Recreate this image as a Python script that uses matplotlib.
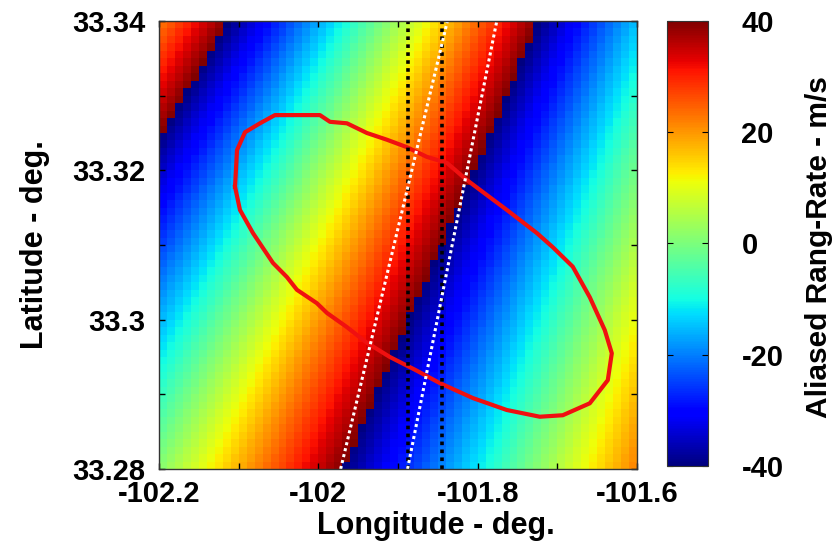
import numpy as np
import matplotlib
matplotlib.use("Agg")
import matplotlib.pyplot as plt
from matplotlib.ticker import MultipleLocator, FormatStrFormatter

plt.rcParams['font.family'] = ['Liberation Sans', 'DejaVu Sans']
plt.rcParams['font.weight'] = 'bold'
plt.rcParams['axes.labelweight'] = 'bold'
plt.rcParams['axes.unicode_minus'] = False

# grid of the range-rate map (cell edges)
lon_edges = np.linspace(-102.2, -101.6, 61)
lat_edges = np.linspace(33.28, 33.34, 61)

# aliasing geometry: longitude of the +40/-40 wrap line
# and width (deg lon) of one 80 m/s stripe at the bottom and top latitude
wrap_lat = [33.28, 33.34]
wrap_lon = [-101.969, -101.7233]
stripe_width = [0.475, 0.390]
v_amb = 80.0

# red footprint contour
ell_lon = [-102.1046, -102.1021, -102.0921, -102.0733, -102.0545, -101.9980, -101.9854,
           -101.9641, -101.9390, -101.9139, -101.8888, -101.8637, -101.8386, -101.8135,
           -101.7885, -101.7634, -101.7257, -101.7056, -101.6806, -101.6592, -101.6404,
           -101.6316, -101.6366, -101.6592, -101.6931, -101.7220, -101.7634, -101.8060,
           -101.8474, -101.8788, -101.9102, -101.9390, -101.9641, -101.9892, -102.0018,
           -102.0269, -102.0394, -102.0570, -102.0821, -102.0984, -102.1046]
ell_lat = [33.3178, 33.3227, 33.3251, 33.3263, 33.3274, 33.3274, 33.3265,
           33.3263, 33.3250, 33.3241, 33.3231, 33.3218, 33.3210, 33.3187,
           33.3167, 33.3147, 33.3116, 33.3097, 33.3071, 33.3030, 33.2986,
           33.2955, 33.2919, 33.2888, 33.2872, 33.2870, 33.2879, 33.2895,
           33.2915, 33.2933, 33.2950, 33.2969, 33.2990, 33.3009, 33.3022,
           33.3040, 33.3057, 33.3076, 33.3116, 33.3147, 33.3178]

# black dotted meridians
dot_lon = [-101.887, -101.845]

# white dashed lines: (lon at 33.28, lon at 33.34)
dash_lon_bottom = [-101.972, -101.888]
dash_lon_top = [-101.838, -101.776]

lon_c = 0.5 * (lon_edges[:-1] + lon_edges[1:])
lat_c = 0.5 * (lat_edges[:-1] + lat_edges[1:])
LON, LAT = np.meshgrid(lon_c, lat_c)
wl = np.interp(LAT, wrap_lat, wrap_lon)
sw = np.interp(LAT, wrap_lat, stripe_width)
u = 40 + v_amb * (LON - wl) / sw
rr = np.mod(u + 40, v_amb) - 40

fig = plt.figure(figsize=(8.37, 5.43), dpi=100)
ax = fig.add_axes([0.190, 0.1363, 0.571, 0.825])
cax = fig.add_axes([0.797, 0.142, 0.049, 0.82])

pc = ax.pcolormesh(lon_edges, lat_edges, rr, cmap='jet', vmin=-40, vmax=40, shading='flat')
ax.plot(ell_lon, ell_lat, color='#f01010', lw=3.0)
for lo in dot_lon:
    ax.plot([lo, lo], [33.28, 33.34], color='black', lw=2.6, dashes=(1.0, 1.2))
for lb, lt in zip(dash_lon_bottom, dash_lon_top):
    ax.plot([lb, lt], [33.28, 33.34], color='white', lw=2.2, dashes=(1.0, 1.0))

ax.set_xlim(-102.2, -101.6)
ax.set_ylim(33.28, 33.34)
ax.xaxis.set_major_locator(MultipleLocator(0.2))
ax.xaxis.set_minor_locator(MultipleLocator(0.1))
ax.yaxis.set_major_locator(MultipleLocator(0.02))
ax.yaxis.set_minor_locator(MultipleLocator(0.01))
ax.xaxis.set_major_formatter(FormatStrFormatter('%g'))
ax.yaxis.set_major_formatter(FormatStrFormatter('%g'))
ax.tick_params(which='both', direction='in', top=True, right=True, length=4, width=1)
ax.tick_params(which='major', labelsize=21, pad=10)
ax.tick_params(axis='x', which='major', pad=8)
ax.set_xlabel('Longitude - deg.', fontsize=22)
ax.xaxis.set_label_coords(0.58, -0.094)
ax.set_ylabel('Latitude - deg.', fontsize=22, labelpad=16)
for s in ax.spines.values():
    s.set_color('#333333')
    s.set_linewidth(1)

cb = fig.colorbar(pc, cax=cax, ticks=[-40, -20, 0, 20, 40])
cb.ax.tick_params(direction='in', length=4, labelsize=21, pad=24, left=True, right=True)
cb.outline.set_edgecolor('#333333')
fig.text(819 / 837, 0.545, 'Aliased Rang-Rate - m/s', rotation=90, ha='center', va='center',
         fontsize=21.5, fontweight='bold')

fig.savefig('out.png', dpi=100)
